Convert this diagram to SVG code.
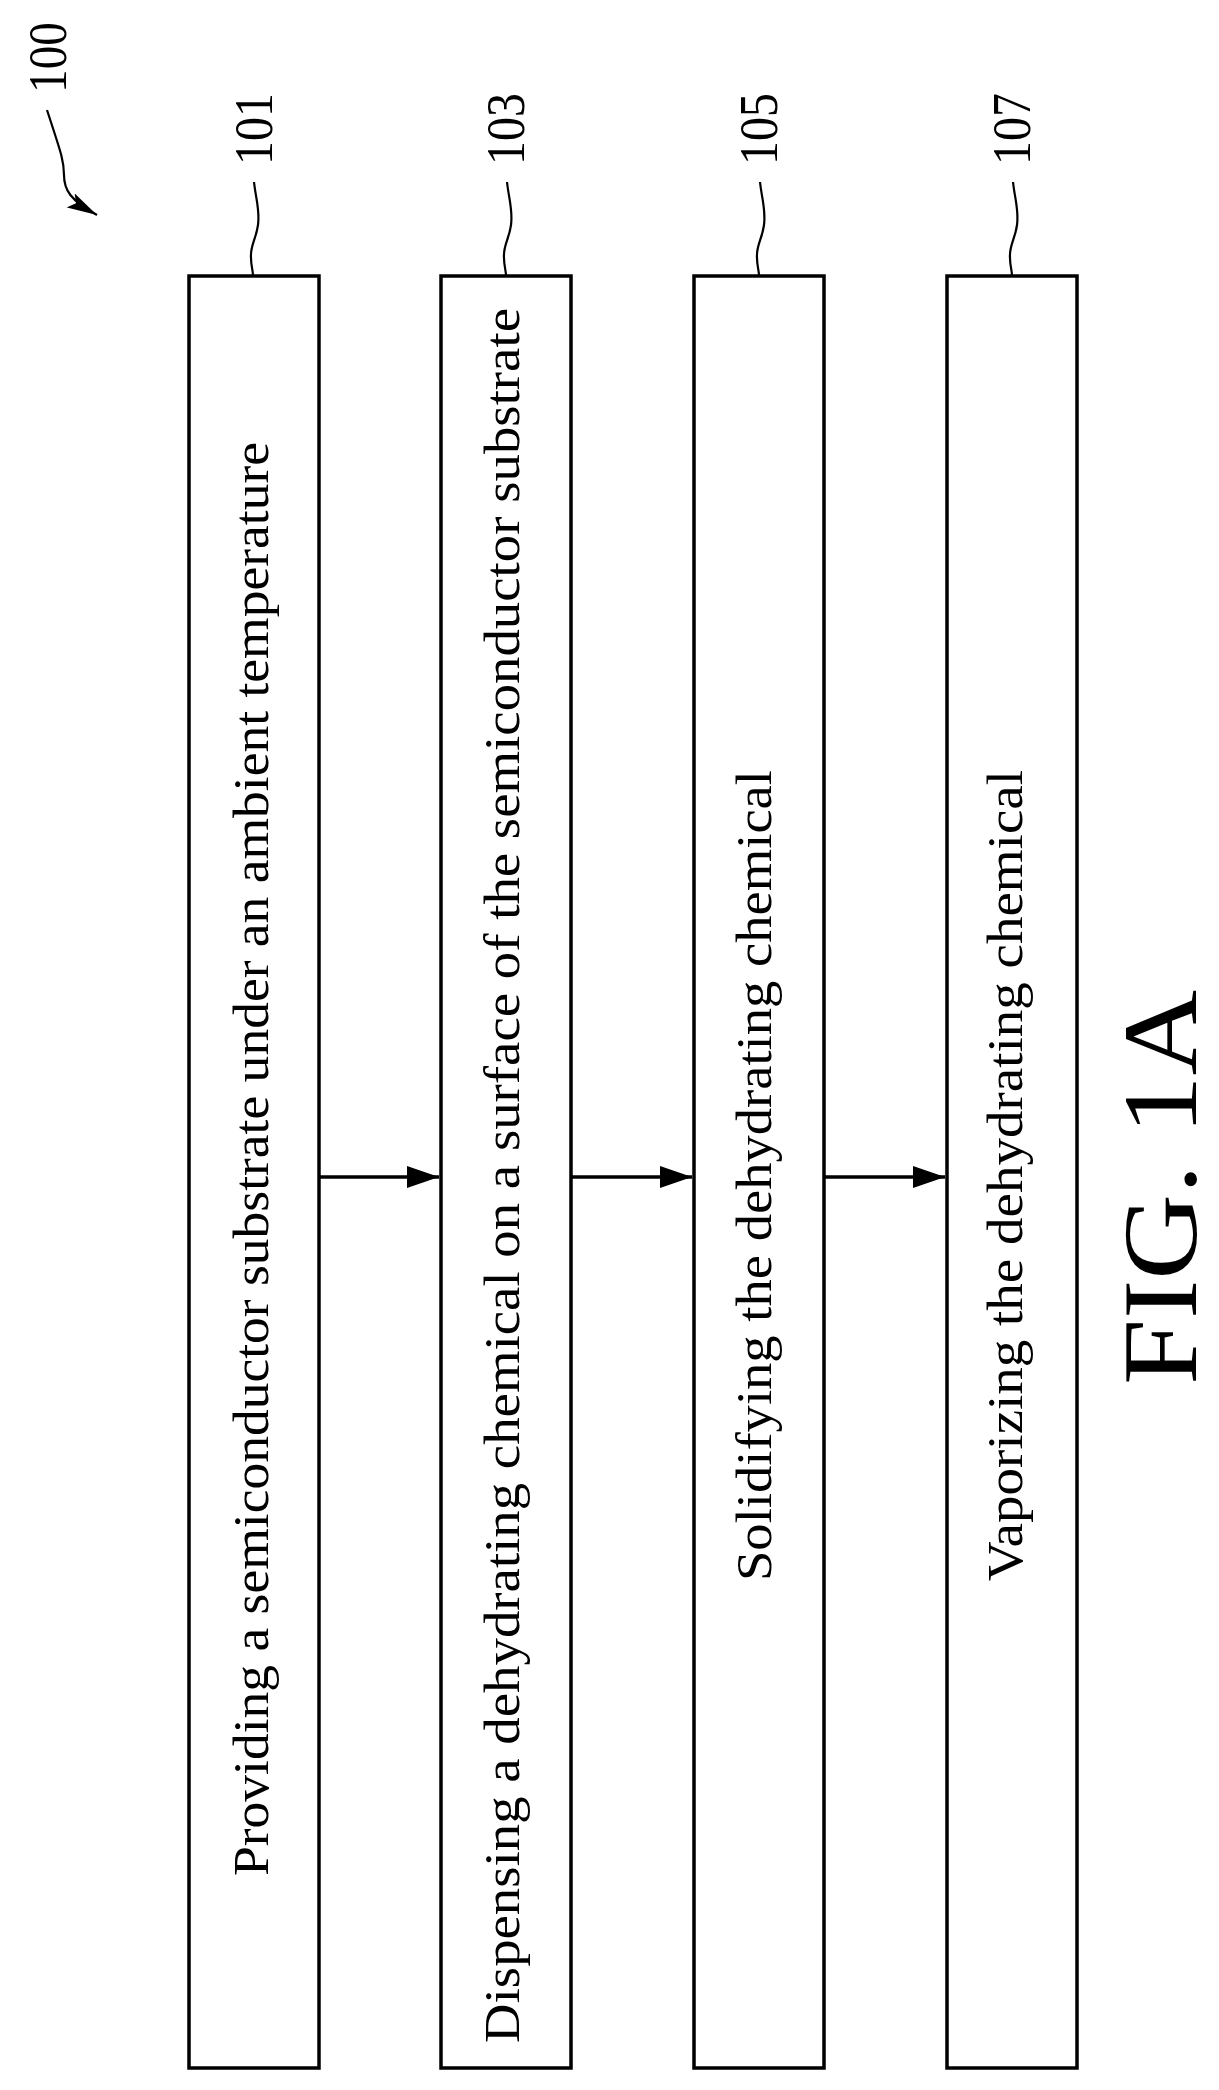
<svg xmlns="http://www.w3.org/2000/svg" width="1219" height="2090" viewBox="0 0 1219 2090">
<style>
.box{fill:#fff;stroke:#000;stroke-width:3.5}
.t{font-family:"Liberation Serif",serif;font-size:50px;fill:#000}
.lbl{font-family:"Liberation Serif",serif;font-size:54px;fill:#000}
.ld{fill:none;stroke:#000;stroke-width:2.2}
.cn{stroke:#000;stroke-width:3.5;fill:none}
</style>
<defs>
<marker id="ah" markerWidth="32" markerHeight="22" refX="32" refY="11" orient="auto" markerUnits="userSpaceOnUse" viewBox="0 0 32 22"><path d="M0,0 L32,11 L0,22 Z" fill="#000"/></marker>
<marker id="ah2" markerWidth="30" markerHeight="16" refX="30" refY="8" orient="auto" markerUnits="userSpaceOnUse"><path d="M0,0 L30,8 L0,16 L6,8 Z" fill="#000"/></marker>
</defs>
<g id="ref100">
<text class="lbl" transform="translate(66,93) rotate(-90)" textLength="71" lengthAdjust="spacingAndGlyphs">100</text>
<path class="ld" d="M47,110 C60,150 64,160 64,175 C64,190 70,200 97,215" marker-end="url(#ah2)"/>
</g>
<g id="n101">
<rect class="box" x="189" y="276" width="130" height="1792"/>
<text class="t" transform="translate(268,1876) rotate(-90)" textLength="1434" lengthAdjust="spacingAndGlyphs">Providing a semiconductor substrate under an ambient temperature</text>
<text class="lbl" transform="translate(272,165) rotate(-90)" textLength="72" lengthAdjust="spacingAndGlyphs">101</text>
<path class="ld" d="M254,182 C256,200 260,210 258,225 C256,240 250,245 251,258 C251,266 253,270 253,276"/>
</g>
<g id="n103">
<rect class="box" x="441" y="276" width="130" height="1792"/>
<text class="t" transform="translate(519,2043) rotate(-90)" textLength="1735" lengthAdjust="spacingAndGlyphs">Dispensing a dehydrating chemical on a surface of the semiconductor substrate</text>
<text class="lbl" transform="translate(524,165) rotate(-90)" textLength="72" lengthAdjust="spacingAndGlyphs">103</text>
<path class="ld" d="M507,182 C509,200 513,210 511,225 C509,240 503,245 504,258 C504,266 506,270 506,276"/>
</g>
<g id="n105">
<rect class="box" x="694" y="276" width="130" height="1792"/>
<text class="t" transform="translate(771,1581) rotate(-90)" textLength="811" lengthAdjust="spacingAndGlyphs">Solidifying the dehydrating chemical</text>
<text class="lbl" transform="translate(777,165) rotate(-90)" textLength="72" lengthAdjust="spacingAndGlyphs">105</text>
<path class="ld" d="M760,182 C762,200 766,210 764,225 C762,240 756,245 757,258 C757,266 759,270 759,276"/>
</g>
<g id="n107">
<rect class="box" x="947" y="276" width="130" height="1792"/>
<text class="t" transform="translate(1022,1581) rotate(-90)" textLength="811" lengthAdjust="spacingAndGlyphs">Vaporizing the dehydrating chemical</text>
<text class="lbl" transform="translate(1030,165) rotate(-90)" textLength="72" lengthAdjust="spacingAndGlyphs">107</text>
<path class="ld" d="M1013,182 C1015,200 1019,210 1017,225 C1015,240 1009,245 1010,258 C1010,266 1012,270 1012,276"/>
</g>
<g id="connectors">
<line class="cn" x1="319" y1="1177" x2="439" y2="1177" marker-end="url(#ah)"/>
<line class="cn" x1="571" y1="1177" x2="692" y2="1177" marker-end="url(#ah)"/>
<line class="cn" x1="824" y1="1177" x2="945" y2="1177" marker-end="url(#ah)"/>
</g>
<text font-family="Liberation Serif,serif" font-size="106" transform="translate(1196,1385) rotate(-90)" textLength="395" lengthAdjust="spacingAndGlyphs">FIG. 1A</text>
</svg>
